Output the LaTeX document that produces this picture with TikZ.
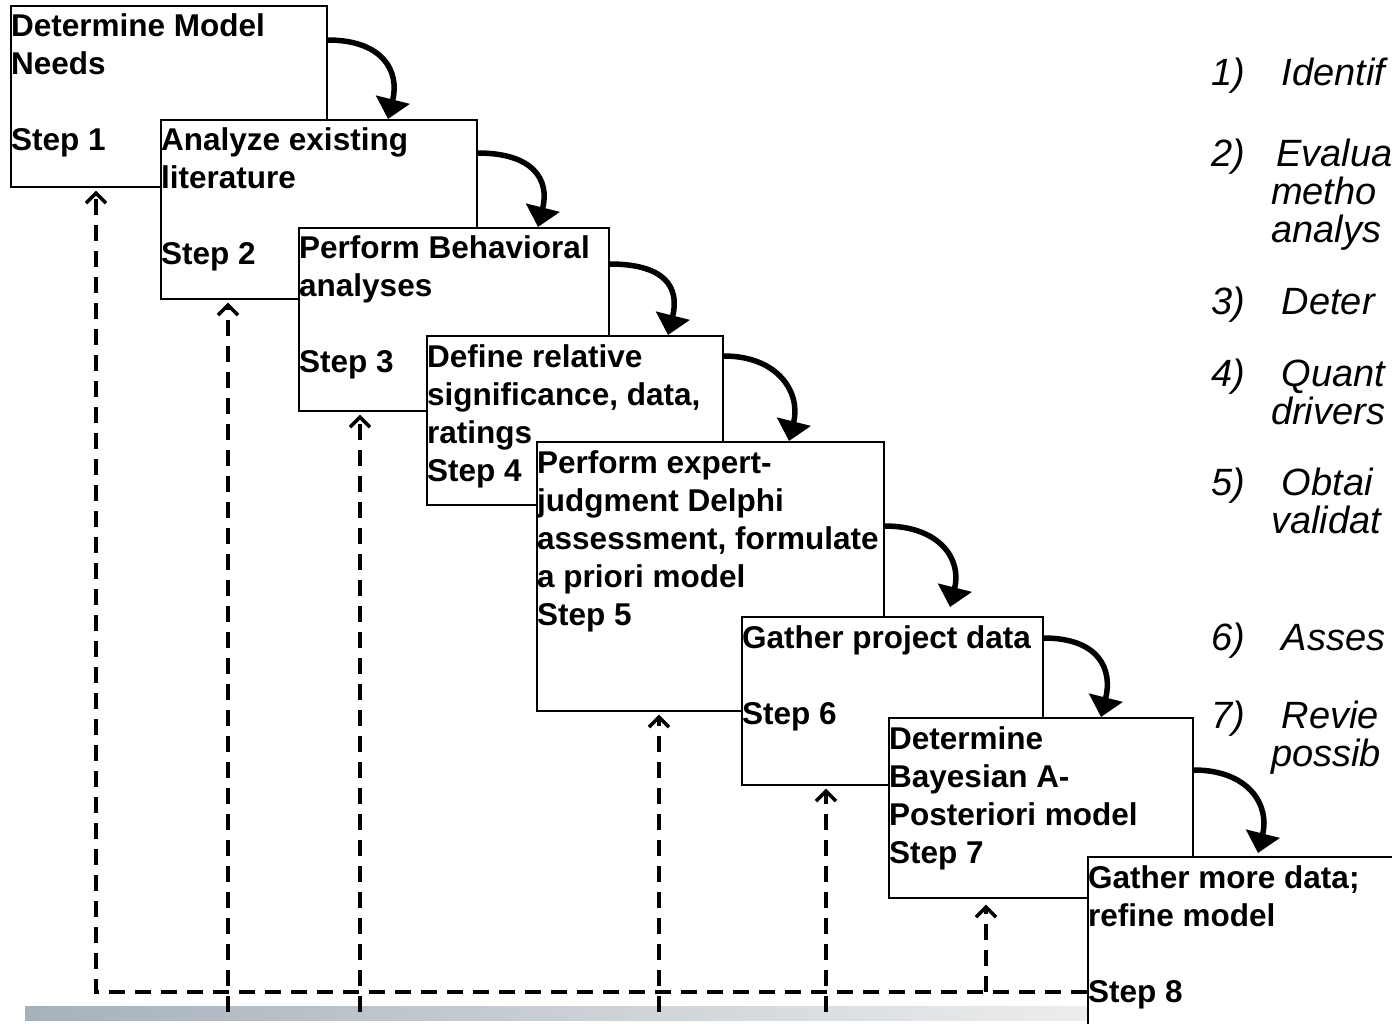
\documentclass[tikz,border=0pt]{standalone}
\usepackage{fontspec}
\setmainfont{Liberation Sans}
\usetikzlibrary{arrows.meta,calc}
\definecolor{barL}{RGB}{166,177,186}
\definecolor{barR}{RGB}{236,237,238}
\newcommand\stk[1]{\vtop{\baselineskip=38pt\lineskiplimit=-\maxdimen\lineskip=0pt #1}}
\begin{document}
\begin{tikzpicture}[x=1pt,y=-1pt,
  box/.style={draw=black, line width=1.6pt, fill=white, rectangle, anchor=north west, inner sep=0pt},
  lbl/.style={anchor=base west, inner sep=0pt, font=\bfseries\fontsize{31.5}{38}\selectfont},
  itm/.style={anchor=base west, inner sep=0pt, font=\itshape\fontsize{38}{38}\selectfont},
  flow/.style={line width=5.5pt, -{Triangle[width=34pt,length=20pt]}},
  fb/.style={line width=3.5pt, dash pattern=on 16pt off 10pt, -{Straight Barb[width=20pt,length=10pt]}}]
\useasboundingbox (0,0) rectangle (1392,1024);
\clip (0,0) rectangle (1392,1024);

% gray base bar
\shade[left color=barL, right color=barR] (25,1006) rectangle (1087,1020);

% boxes and their texts
\node[box, minimum width=316pt, minimum height=181pt] (b1) at (10,5) {};
\node[lbl] (t1) at (11,37) {\stk{\hbox{Determine Model}\hbox{Needs}\hbox{}\hbox{Step 1}}};
\node[box, minimum width=316pt, minimum height=179pt] (b2) at (160,119) {};
\node[lbl] (t2) at (161,151) {\stk{\hbox{Analyze existing}\hbox{literature}\hbox{}\hbox{Step 2}}};
\node[box, minimum width=310pt, minimum height=183pt] (b3) at (298,227) {};
\node[lbl] (t3) at (299,259) {\stk{\hbox{Perform Behavioral}\hbox{analyses}\hbox{}\hbox{Step 3}}};
\node[box, minimum width=296pt, minimum height=169pt] (b4) at (426,335) {};
\node[lbl] (t4) at (427,367) {\stk{\hbox{Define relative}\hbox{significance, data,}\hbox{ratings}\hbox{Step 4}}};
\node[box, minimum width=347pt, minimum height=269pt] (b5) at (536,441) {};
\node[lbl] (t5) at (537,473) {\stk{\hbox{Perform expert-}\hbox{judgment Delphi}\hbox{assessment, formulate}\hbox{a priori model}\hbox{Step 5}}};
\node[box, minimum width=301pt, minimum height=168pt] (b6) at (741,616) {};
\node[lbl] (t6) at (742,648) {\stk{\hbox{Gather project data}\hbox{}\hbox{Step 6}}};
\node[box, minimum width=304pt, minimum height=180pt] (b7) at (888,717) {};
\node[lbl] (t7) at (889,749) {\stk{\hbox{Determine}\hbox{Bayesian A-}\hbox{Posteriori model}\hbox{Step 7}}};
\node[box, minimum width=400pt, minimum height=260pt] (b8) at (1087,856) {};
\node[lbl] (t8) at (1088,888) {\stk{\hbox{Gather more data;}\hbox{refine model}\hbox{}\hbox{Step 8}}};

% feedback (dashed) arrows
\coordinate (j0) at (96,992);
\coordinate (jE) at (b8.west |- j0);
\coordinate (f2) at (228,1012);
\coordinate (f3) at (360,1012);
\coordinate (f5) at (659,1012);
\coordinate (f6) at (826,1012);
\coordinate (f7) at (986,992);
\coordinate (u1) at ($(b1.south -| j0)+(0,3)$);
\coordinate (u2) at ($(b2.south -| f2)+(0,3)$);
\coordinate (u3) at ($(b3.south -| f3)+(0,3)$);
\coordinate (u5) at ($(b5.south -| f5)+(0,3)$);
\coordinate (u6) at ($(b6.south -| f6)+(0,3)$);
\coordinate (u7) at ($(b7.south -| f7)+(0,6)$);
\draw[fb] (jE) -- (j0) -- (u1);
\draw[fb] (f2) -- (u2);
\draw[fb] (f3) -- (u3);
\draw[fb] (f5) -- (u5);
\draw[fb] (f6) -- (u6);
\draw[fb] (f7) -- (u7);

% forward (curved) arrows
\coordinate (s1) at (b1.east |- 0,40);   \coordinate (e1) at (388,0 |- b2.north);
\coordinate (s2) at (b2.east |- 0,153);  \coordinate (e2) at (538,0 |- b3.north);
\coordinate (s3) at (b3.east |- 0,264);  \coordinate (e3) at (668,0 |- b4.north);
\coordinate (s4) at (b4.east |- 0,356);  \coordinate (e4) at (789,0 |- b5.north);
\coordinate (s5) at (b5.east |- 0,526);  \coordinate (e5) at (950,607);
\coordinate (s6) at (b6.east |- 0,638);  \coordinate (e6) at (1101,0 |- b7.north);
\coordinate (s7) at (b7.east |- 0,770);  \coordinate (e7) at (1258,853);
\foreach \i in {1,...,7}{
  \draw[flow] (s\i) .. controls ($(s\i)+(55,0)$) and ($(e\i)+(12,-48)$) .. (e\i);
}

% right-hand list (cut at the picture edge, as in the reference)
\node[itm] (n1) at (1211,86)  {1)};
\node[itm] (r1) at (1271,86)  {\stk{\hbox{\ Identif}}};
\node[itm] (n2) at (1211,167) {2)};
\node[itm] (r2) at (1271,167) {\stk{\hbox{\kern5pt Evalua}\hbox{metho}\hbox{analys}}};
\node[itm] (n3) at (1211,315) {3)};
\node[itm] (r3) at (1271,315) {\stk{\hbox{\ Deter}}};
\node[itm] (n4) at (1211,386) {4)};
\node[itm] (r4) at (1271,386) {\stk{\hbox{\ Quant}\hbox{drivers}}};
\node[itm] (n5) at (1211,495) {5)};
\node[itm] (r5) at (1271,495) {\stk{\hbox{\ Obtai}\hbox{validat}}};
\node[itm] (n6) at (1211,650) {6)};
\node[itm] (r6) at (1271,650) {\stk{\hbox{\ Asses}}};
\node[itm] (n7) at (1211,728) {7)};
\node[itm] (r7) at (1271,728) {\stk{\hbox{\ Revie}\hbox{possib}}};
\end{tikzpicture}
\end{document}
